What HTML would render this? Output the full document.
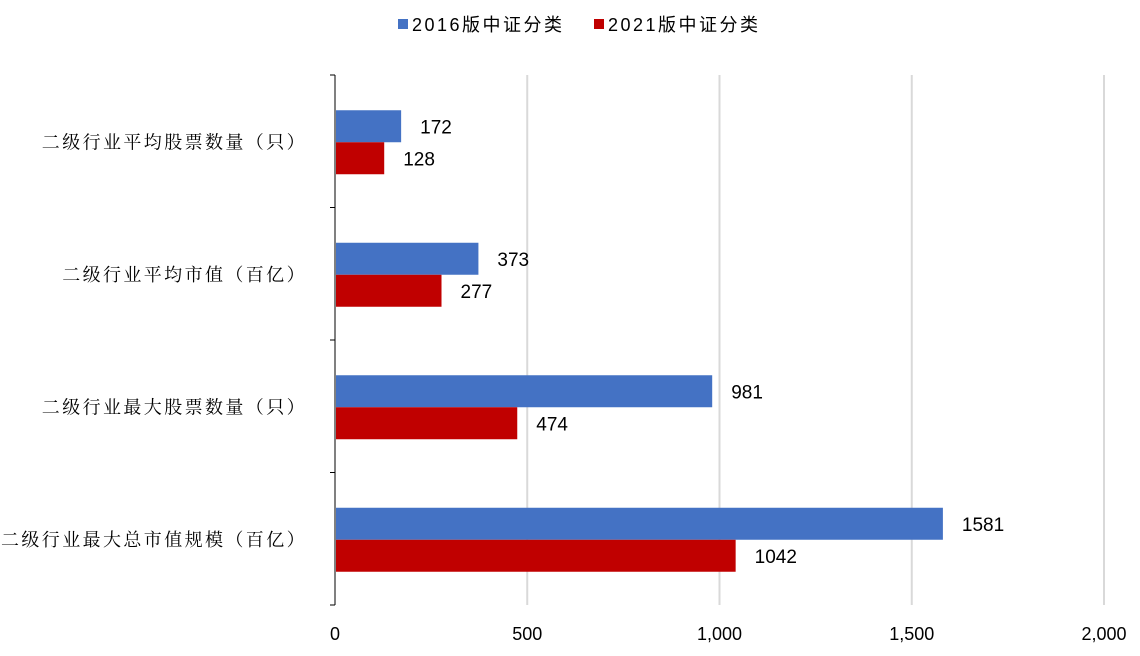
<!DOCTYPE html>
<html><head><meta charset="utf-8"><style>
body{margin:0;background:#fff;}
svg text{font-family:"Liberation Sans","Noto Sans CJK SC",sans-serif;}
.cat{font-family:"Liberation Serif","Noto Serif CJK SC",serif;font-size:18px;letter-spacing:2.4px;}
.leg{letter-spacing:2.5px;}
</style></head><body>
<svg id="c" width="1140" height="651" xmlns="http://www.w3.org/2000/svg">
<g id="legend">
<rect x="398" y="19" width="10" height="10" fill="#4472c4"/>
<text class="leg" x="412" y="31" font-size="18" fill="#000">2016版中证分类</text>
<rect x="594" y="19" width="10" height="10" fill="#c00000"/>
<text class="leg" x="608" y="31" font-size="18" fill="#000">2021版中证分类</text>
</g>
<g id="grid"></g><g id="bars"></g><g id="axes"></g>
</svg>
<script>
const categories=["二级行业平均股票数量（只）","二级行业平均市值（百亿）","二级行业最大股票数量（只）","二级行业最大总市值规模（百亿）"];
const series2016=[172,373,981,1581];
const series2021=[128,277,474,1042];
const ticks=[0,500,1000,1500,2000];
const tickLabels=["0","500","1,000","1,500","2,000"];
const NS="http://www.w3.org/2000/svg";
const X0=335,X1=1104,Y0=75,Y1=605,MAX=2000;
const x=v=>X0+(X1-X0)*v/MAX;
const band=(Y1-Y0)/categories.length;
const yc=i=>Y0+band*(i+0.5);
function mk(t,a,p){const e=document.createElementNS(NS,t);for(const k in a)e.setAttribute(k,a[k]);p.appendChild(e);return e;}
const grid=document.getElementById('grid'),bars=document.getElementById('bars'),axes=document.getElementById('axes');
ticks.forEach((t,i)=>{
 if(t>0){const l=mk('line',{x1:x(t),x2:x(t),y1:Y0,y2:Y1,stroke:'#d9d9d9','stroke-width':2},grid);
 
 }
 const tx=mk('text',{x:x(t),y:640,'font-size':18,'text-anchor':'middle'},axes);tx.textContent=tickLabels[i];
 
 
});
const ax=mk('line',{x1:X0,x2:X0,y1:Y0,y2:Y1,stroke:'#000','stroke-width':1},axes);


for(let i=0;i<=categories.length;i++){const tk=mk('line',{x1:X0-5,x2:X0,y1:Y0+band*i,y2:Y0+band*i,stroke:'#000'},axes);
 
 }
const H=32;
categories.forEach((c,i)=>{
 const cy=yc(i);
 const ct=mk('text',{x:307,y:cy+7,'text-anchor':'end',class:'cat'},axes);ct.textContent=c;
 
 
 [[series2016,'#4472c4',cy-H+1,'2016'],[series2021,'#c00000',cy+1,'2021']].forEach(([s,col,top,nm])=>{
  const r=mk('rect',{x:X0+1,y:top,width:x(s[i])-X0-1,height:H,fill:col},bars);
  
  
  const t=mk('text',{x:x(s[i])+19,y:top+H/2+7,'font-size':19},bars);t.textContent=s[i];
  
  
 });
});
</script>
</body></html>
